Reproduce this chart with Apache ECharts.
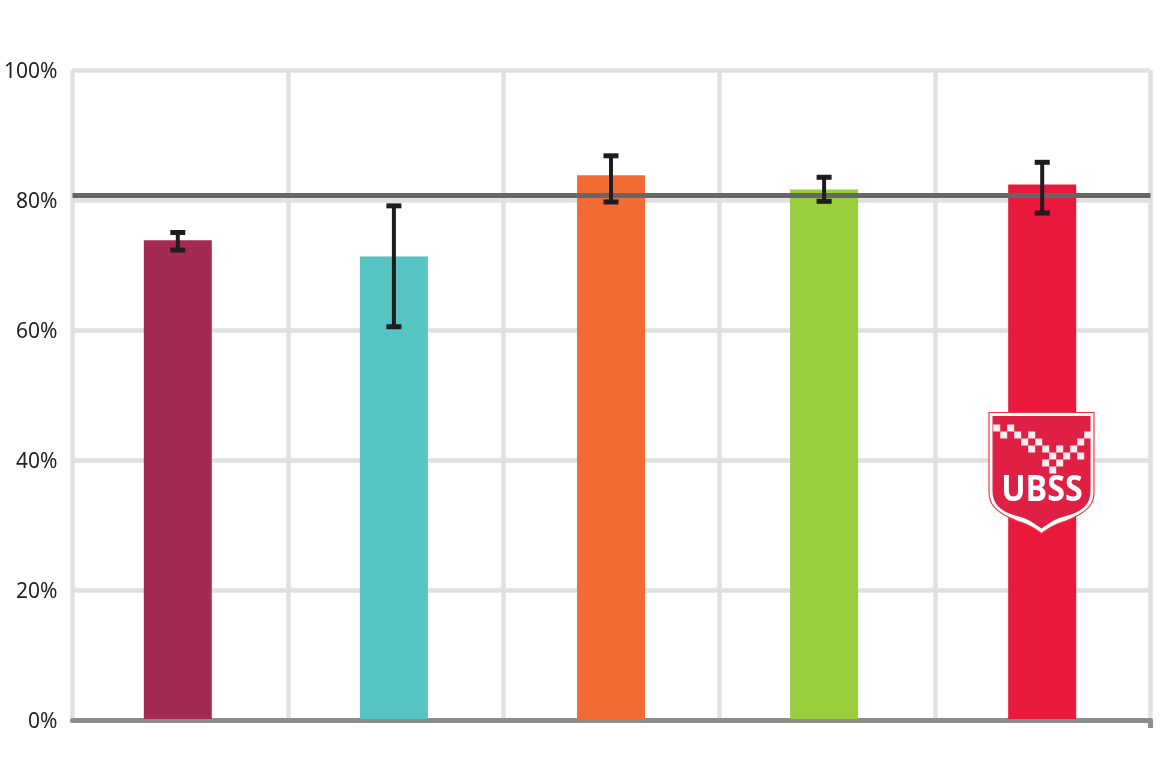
<!DOCTYPE html>
<html>
<head>
<meta charset="utf-8">
<style>html,body{margin:0;padding:0;background:#fff}#c{width:1160px;height:766px}</style>
<script src="https://cdn.jsdelivr.net/npm/echarts@6/dist/echarts.min.js"></script>
</head>
<body>
<div id="c"></div>
<script>
const categories = ['1', '2', '3', '4', '5'];
const values = [73.8, 71.3, 83.8, 81.6, 82.4];
const errorLow = [72.3, 60.5, 79.7, 79.8, 78.0];
const errorHigh = [75.0, 79.1, 86.8, 83.5, 85.8];
const referenceValue = 80.7;
const yTicks = [0, 20, 40, 60, 80, 100];

const barColors = ['#A42A54', '#55C4C2', '#F26B35', '#9ACD3C', '#E8193A'];
const barNudgePx = [-2.5, -2, -0.5, -3, -0.5];
const BAR_W = 68, CAP_W = 15;

const chart = echarts.init(document.getElementById('c'), null, {renderer: 'canvas'});

function renderBar(params, api) {
  const i = api.value(0);
  const top = api.coord([i, api.value(1)]);
  const base = api.coord([i, 0]);
  return {
    type: 'rect',
    shape: {x: top[0] + barNudgePx[i] - BAR_W / 2, y: top[1], width: BAR_W, height: base[1] - top[1] - 1},
    style: {fill: barColors[i]}
  };
}
function renderError(params, api) {
  const i = api.value(0);
  const hi = api.coord([i, api.value(2)]);
  const lo = api.coord([i, api.value(1)]);
  const x = hi[0] + barNudgePx[i];
  const st = {stroke: '#1E1C1E', lineWidth: 5, fill: null};
  return {
    type: 'group',
    children: [
      {type: 'line', shape: {x1: x, y1: hi[1], x2: x, y2: lo[1]}, style: {stroke: '#1E1C1E', lineWidth: 4}},
      {type: 'line', shape: {x1: x - CAP_W / 2, y1: hi[1], x2: x + CAP_W / 2, y2: hi[1]}, style: st},
      {type: 'line', shape: {x1: x - CAP_W / 2, y1: lo[1], x2: x + CAP_W / 2, y2: lo[1]}, style: st}
    ]
  };
}

// Logo: decoration laid over the last bar, not data.
const LOGO_CELL = 7, LOGO_X = 993.2, LOGO_Y = 424.5;
const logoCells = [[0,0],[2,0],[1,1],[3,1],[5,1],[4,2],[6,2],[5,3],[7,3],[8,4],[9,3],[10,4],[11,3],[12,2],[13,1],[12,4],[7,5],[9,5],[8,6]];

function cubic(p0, p1, p2, p3, n) {
  const out = [];
  for (let k = 1; k <= n; k++) {
    const t = k / n, u = 1 - t;
    out.push([
      u*u*u*p0[0] + 3*u*u*t*p1[0] + 3*u*t*t*p2[0] + t*t*t*p3[0],
      u*u*u*p0[1] + 3*u*u*t*p1[1] + 3*u*t*t*p2[1] + t*t*t*p3[1]
    ]);
  }
  return out;
}
function shield(l, r, top, sideEnd, tip, shoulderY) {
  const c = (l + r) / 2;
  const mirror = pts => pts.map(p => [2 * c - p[0], p[1]]).reverse();
  const right = [
    [r, top], [r, sideEnd],
    ...cubic([r, sideEnd], [r, sideEnd + 16], [r - 12, sideEnd + 22], [r - 28, shoulderY], 10),
    ...cubic([r - 28, shoulderY], [r - 38, shoulderY + 3], [c + 7, shoulderY + 7], [c, tip], 6)
  ];
  return right.concat(mirror(right).slice(1));
}
const shieldOuter = shield(989, 1094, 412.5, 492, 533.5, 521);
const shieldInner = shield(992.5, 1090.5, 416, 491, 528.5, 517);

const decoration = [
  {type: 'rect', shape: {x: 1148, y: 720, width: 5, height: 8}, style: {fill: '#8C8C8C'}, z: 10},
  {type: 'polygon', shape: {points: shieldOuter}, style: {fill: '#fff', stroke: '#EE3A3F', lineWidth: 1.2}, z: 10},
  {type: 'polygon', shape: {points: shieldInner}, style: {fill: '#E01F45'}, z: 11},
  ...logoCells.map(c => ({
    type: 'rect',
    shape: {x: LOGO_X + c[0] * LOGO_CELL, y: LOGO_Y + c[1] * LOGO_CELL, width: LOGO_CELL, height: LOGO_CELL},
    style: {fill: '#FBEDEE'}, z: 12
  })),
  {type: 'text', x: 1042, y: 491, scaleX: 0.92, z: 13,
   style: {text: 'UBSS', fill: '#fff', font: '700 35px "Open Sans"', textAlign: 'center', textVerticalAlign: 'middle'}}
];

chart.setOption({
  animation: false,
  backgroundColor: '#fff',
  grid: {left: 72.5, right: 9.5, top: 70, bottom: 46, containLabel: false},
  xAxis: {
    type: 'category',
    data: categories,
    boundaryGap: true,
    axisLine: {show: true, lineStyle: {color: '#8C8C8C', width: 5}},
    axisTick: {show: false},
    axisLabel: {show: false},
    splitLine: {show: true, interval: 0, lineStyle: {color: '#E0E0E0', width: 4.5}}
  },
  yAxis: {
    type: 'value',
    min: yTicks[0],
    max: yTicks[yTicks.length - 1],
    interval: 20,
    axisLine: {show: false},
    axisTick: {show: false},
    axisLabel: {
      formatter: '{value}%',
      margin: 15,
      verticalAlign: 'top',
      lineHeight: 4,
      color: '#222',
      fontFamily: '"Noto Sans"',
      fontSize: 21
    },
    splitLine: {show: true, lineStyle: {color: '#E0E0E0', width: 4.5}}
  },
  series: [
    {
      name: 'Reference',
      type: 'line',
      data: [],
      z: 3,
      silent: true,
      markLine: {
        silent: true,
        symbol: 'none',
        label: {show: false},
        lineStyle: {color: '#666', width: 5, type: 'solid'},
        data: [{yAxis: referenceValue}]
      }
    },
    {
      name: 'Bars',
      type: 'custom',
      z: 4,
      renderItem: renderBar,
      encode: {x: 0, y: 1},
      data: values.map((v, i) => [i, v])
    },
    {
      name: 'Error',
      type: 'custom',
      z: 5,
      renderItem: renderError,
      encode: {x: 0, y: [1, 2]},
      data: errorLow.map((v, i) => [i, v, errorHigh[i]])
    }
  ],
  graphic: decoration
});
</script>
</body>
</html>
